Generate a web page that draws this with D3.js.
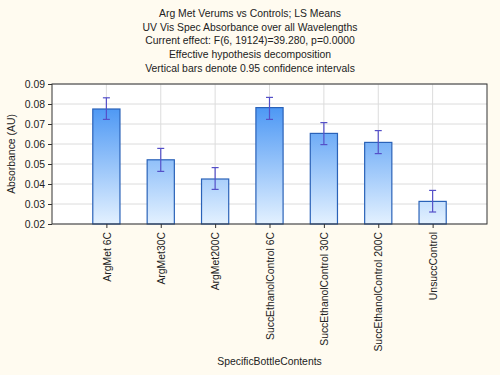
<!DOCTYPE html>
<html>
<head>
<meta charset="utf-8">
<script src="https://cdn.jsdelivr.net/npm/d3@7"></script>
<style>
  body { margin: 0; background: #fffbf0; }
  svg text { font-family: "Liberation Sans", Arial, sans-serif; fill: #222; }
</style>
</head>
<body>
<div id="chart"></div>
<script>
// categories and LS means with 0.95 CI bounds
var categories = ["ArgMet 6C", "ArgMet30C", "ArgMet200C", "SuccEthanolControl 6C",
  "SuccEthanolControl 30C", "SuccEthanolControl 200C", "UnsuccControl"];
var means = [0.0775, 0.0521, 0.0425, 0.0782, 0.0653, 0.0608, 0.0313];
var lower = [0.0723, 0.0463, 0.0373, 0.0723, 0.0597, 0.0552, 0.0260];
var upper = [0.0831, 0.0578, 0.0482, 0.0833, 0.0707, 0.0667, 0.0368];
var yTicks = [0.02, 0.03, 0.04, 0.05, 0.06, 0.07, 0.08, 0.09];
var titleLines = [
  "Arg Met Verums vs Controls; LS Means",
  "UV Vis Spec Absorbance over all Wavelengths",
  "Current effect: F(6, 19124)=39.280, p=0.0000",
  "Effective hypothesis decomposition",
  "Vertical bars denote 0.95 confidence intervals"
];

var svgWidth = 500, svgHeight = 375;
var margin = { top: 84, right: 13, bottom: 151, left: 52 };
var w = svgWidth - margin.left - margin.right;
var h = svgHeight - margin.top - margin.bottom;
var fs = '10.4px';

var svg = d3.select('#chart').append('svg')
  .attr('width', svgWidth)
  .attr('height', svgHeight);

// gradient over the whole plot height (dark at top, pale at bottom)
var grad = svg.append('defs').append('linearGradient')
  .attr('id', 'barGrad')
  .attr('gradientUnits', 'userSpaceOnUse')
  .attr('x1', 0).attr('x2', 0)
  .attr('y1', 0).attr('y2', h);
grad.append('stop').attr('offset', '0%').attr('stop-color', '#2f86f2');
grad.append('stop').attr('offset', '100%').attr('stop-color', '#e3f1ff');

// titles
svg.selectAll('.title').data(titleLines).enter().append('text')
  .attr('x', 250)
  .attr('y', function (d, i) { return 17 + i * 13.7; })
  .attr('text-anchor', 'middle')
  .attr('font-size', fs)
  .text(function (d) { return d; });

var g = svg.append('g')
  .attr('transform', 'translate(' + margin.left + ',' + margin.top + ')');

var x = d3.scalePoint().domain(categories).range([0, w]).padding(1);
var y = d3.scaleLinear().domain([0.02, 0.09]).range([h, 0]);
var barW = x.step() * 0.5;

g.append('rect').attr('width', w).attr('height', h).attr('fill', '#fff');

// grid
g.selectAll('.hgrid').data(yTicks).enter().append('line')
  .attr('x1', 0).attr('x2', w)
  .attr('y1', function (d) { return y(d); })
  .attr('y2', function (d) { return y(d); })
  .attr('stroke', '#dcdcdc');
g.selectAll('.vgrid').data(categories).enter().append('line')
  .attr('y1', 0).attr('y2', h)
  .attr('x1', function (d) { return x(d); })
  .attr('x2', function (d) { return x(d); })
  .attr('stroke', '#dcdcdc');

// bars
g.selectAll('.bar').data(categories).enter().append('rect')
  .attr('x', function (d) { return x(d) - barW / 2; })
  .attr('y', function (d, i) { return y(means[i]); })
  .attr('width', barW)
  .attr('height', function (d, i) { return h - y(means[i]); })
  .attr('fill', 'url(#barGrad)')
  .attr('stroke', '#2a62b8')
  .attr('stroke-width', 1.2);

// error bars
var eb = g.selectAll('.err').data(categories).enter().append('g')
  .attr('stroke', '#5550c8').attr('stroke-width', 1.2);
eb.append('line')
  .attr('x1', function (d) { return x(d); }).attr('x2', function (d) { return x(d); })
  .attr('y1', function (d, i) { return y(upper[i]); })
  .attr('y2', function (d, i) { return y(lower[i]); });
eb.append('line')
  .attr('x1', function (d) { return x(d) - 3.5; }).attr('x2', function (d) { return x(d) + 3.5; })
  .attr('y1', function (d, i) { return y(upper[i]); })
  .attr('y2', function (d, i) { return y(upper[i]); });
eb.append('line')
  .attr('x1', function (d) { return x(d) - 3.5; }).attr('x2', function (d) { return x(d) + 3.5; })
  .attr('y1', function (d, i) { return y(lower[i]); })
  .attr('y2', function (d, i) { return y(lower[i]); });

// frame
g.append('rect').attr('width', w).attr('height', h)
  .attr('fill', 'none').attr('stroke', '#333');

// y axis
var yAxisG = g.append('g')
  .call(d3.axisLeft(y).tickValues(yTicks).tickFormat(d3.format('.2f')).tickSize(4).tickPadding(3));
yAxisG.select('.domain').remove();
yAxisG.selectAll('line').attr('stroke', '#333');
yAxisG.selectAll('text').attr('font-size', fs).attr('fill', '#222')
  .attr('font-family', '"Liberation Sans", Arial, sans-serif');

// x axis
var xAxisG = g.append('g')
  .attr('transform', 'translate(0,' + h + ')')
  .call(d3.axisBottom(x).tickSize(4));
xAxisG.select('.domain').remove();
xAxisG.selectAll('line').attr('stroke', '#333');
xAxisG.selectAll('text')
  .attr('font-size', fs).attr('fill', '#222')
  .attr('font-family', '"Liberation Sans", Arial, sans-serif')
  .attr('text-anchor', 'end')
  .attr('dy', '0.35em')
  .attr('transform', 'rotate(-90)')
  .attr('x', -8).attr('y', 0);

// axis titles
svg.append('text')
  .attr('transform', 'translate(15,' + (margin.top + h / 2) + ') rotate(-90)')
  .attr('text-anchor', 'middle')
  .attr('font-size', fs)
  .text('Absorbance (AU)');
svg.append('text')
  .attr('x', margin.left + w / 2)
  .attr('y', 365)
  .attr('text-anchor', 'middle')
  .attr('font-size', fs)
  .text('SpecificBottleContents');
</script>
</body>
</html>
